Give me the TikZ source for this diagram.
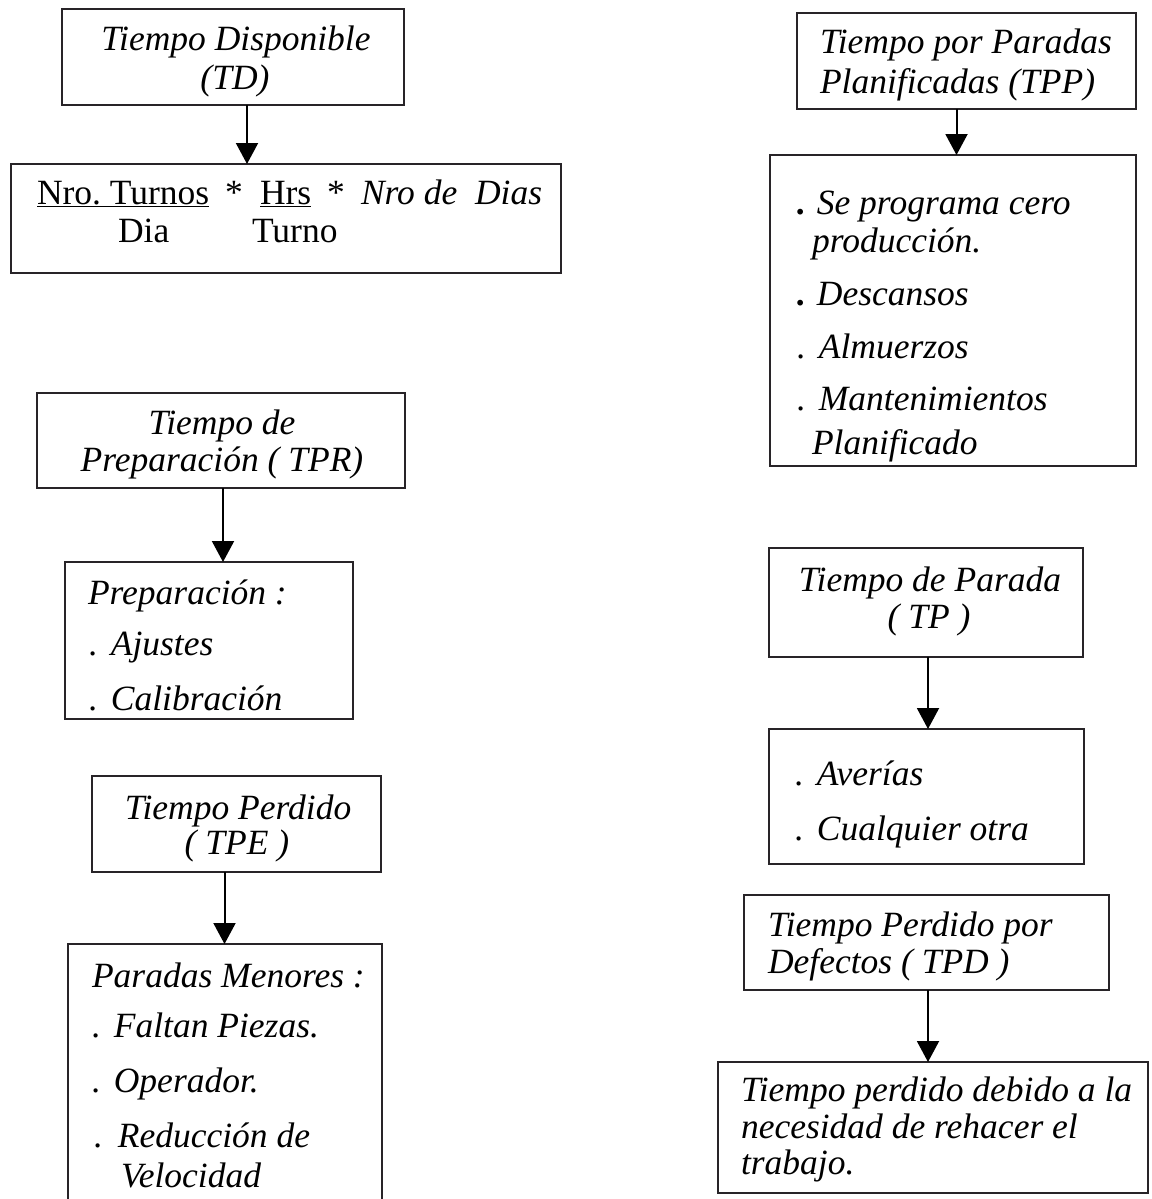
\documentclass[tikz,border=0pt]{standalone}
\usepackage{fontspec}
\setmainfont{Liberation Serif}
\usetikzlibrary{arrows.meta,fit}
\frenchspacing

\definecolor{ink}{RGB}{40,36,40}

% list marker: a period followed by a fixed gap
\newcommand{\itdot}{.\hspace{13pt}}
\newcommand{\itbul}{\textbf{.}\hspace{11pt}}

\tikzset{
  frame/.style={draw=ink, line width=2.2pt, inner sep=0pt, outer sep=0pt},
  hole/.style={inner sep=0pt, outer sep=0pt},
  txt/.style={inner sep=0pt, outer sep=0pt, text=black,
              font=\fontsize{35.5}{39}\selectfont\itshape},
  up/.style={txt, font=\fontsize{35.5}{39}\selectfont\upshape},
  lw/.style={txt, anchor=base west},
  lc/.style={txt, anchor=base},
  link/.style={draw=black, line width=2pt,
               -{Triangle[length=21pt,width=22pt]}}
}

\begin{document}
\begin{tikzpicture}[x=1pt,y=-1pt]
\useasboundingbox (0,0) rectangle (1151,1199);

% ---------- Tiempo Disponible ----------
\node[frame, fit={(62,9) (404,105)}] (td) {};
\node[lc] (tdA) at (236,51) {Tiempo Disponible};
\node[lc] (tdB) at (235,89) {(TD)};
\node[frame, fit={(11,164) (561,273)}] (tdc) {};
\node[up, anchor=base west] (f1) at (37,204) {\underline{Nro. Turnos}};
\node[up, anchor=base] (f2) at (234,204) {*};
\node[up, anchor=base west] (f3) at (260,204) {\underline{Hrs}};
\node[up, anchor=base] (f4) at (336,204) {*};
\node[lw] (f5) at (361,204) {Nro de\ \ Dias};
\node[up, anchor=base west] (f6) at (118,242) {Dia};
\node[up, anchor=base west] (f7) at (252,242) {Turno};
\draw[link] ([xshift=14pt]td.south) -- ([xshift=14pt]td.south |- tdc.north);

% ---------- Paradas Planificadas ----------
\node[frame, fit={(797,13) (1136,109)}] (tpp) {};
\node[lw] (tppA) at (820,54) {Tiempo por Paradas};
\node[lw] (tppB) at (820,93) {Planificadas (TPP)};
\node[frame, fit={(770,155) (1136,466)}] (tppc) {};
\node[lw] (tpp1) at (797,214) {\itbul Se programa cero};
\node[lw] (tpp2) at (812,252) {producción.};
\node[lw] (tpp3) at (797,305) {\itbul Descansos};
\node[lw] (tpp4) at (797,358) {\itdot Almuerzos};
\node[lw] (tpp5) at (797,410) {\itdot Mantenimientos};
\node[lw] (tpp6) at (812,454) {Planificado};
\draw[link] ([xshift=-10pt]tpp.south) -- ([xshift=-10pt]tpp.south |- tppc.north);

% ---------- Preparacion ----------
\node[frame, fit={(37,393) (405,488)}] (tpr) {};
\node[lc] (tprA) at (222,434) {Tiempo de};
\node[lc] (tprB) at (222,471) {Preparación ( TPR)};
\node[frame, fit={(65,562) (353,719)}] (tprc) {};
\node[lw] (tpr1) at (88,604) {Preparación :};
\node[lw] (tpr2) at (89,655) {\itdot Ajustes};
\node[lw] (tpr3) at (89,710) {\itdot Calibración};
\draw[link] ([xshift=2pt]tpr.south) -- ([xshift=2pt]tpr.south |- tprc.north);

% ---------- Tiempo Perdido ----------
\node[frame, fit={(92,776) (381,872)}] (tpe) {};
\node[lc] (tpeA) at (238,819) {Tiempo Perdido};
\node[lc] (tpeB) at (237,854) {( TPE )};
\node[hole, fit={(68,944) (382,1203)}] (tpec) {};
\draw[draw=ink, line width=2.2pt] (tpec.south west) -- (tpec.north west)
  -- (tpec.north east) -- (tpec.south east);
\node[lw] (tpe1) at (92,987) {Paradas Menores :};
\node[lw] (tpe2) at (92,1037) {\itdot Faltan Piezas.};
\node[lw] (tpe3) at (92,1092) {\itdot Operador.};
\node[lw] (tpe4) at (94,1147) {.\hspace{15pt}Reducción de};
\node[lw] (tpe5) at (121,1187) {Velocidad};
\draw[link] ([xshift=-12pt]tpe.south) -- ([xshift=-12pt]tpe.south |- tpec.north);

% ---------- Tiempo de Parada ----------
\node[frame, fit={(769,548) (1083,657)}] (tp) {};
\node[lc] (tpA) at (930,591) {Tiempo de Parada};
\node[lc] (tpB) at (929,628) {( TP )};
\node[frame, fit={(769,729) (1084,864)}] (tpc) {};
\node[lw] (tp1) at (795,785) {\itdot Averías};
\node[lw] (tp2) at (795,840) {\itdot Cualquier otra};
\draw[link] ([xshift=2pt]tp.south) -- ([xshift=2pt]tp.south |- tpc.north);

% ---------- Perdido por Defectos ----------
\node[frame, fit={(744,895) (1109,990)}] (tpd) {};
\node[lw] (tpdA) at (768,936) {Tiempo Perdido por};
\node[lw] (tpdB) at (768,973) {Defectos ( TPD )};
\node[frame, fit={(718,1062) (1148,1193)}] (tpdc) {};
\node[lw] (tpd1) at (741,1101) {Tiempo perdido debido a la};
\node[lw] (tpd2) at (741,1138) {necesidad de rehacer el};
\node[lw] (tpd3) at (741,1174) {trabajo.};
\draw[link] ([xshift=1.5pt]tpd.south) -- ([xshift=1.5pt]tpd.south |- tpdc.north);

\end{tikzpicture}
\end{document}
